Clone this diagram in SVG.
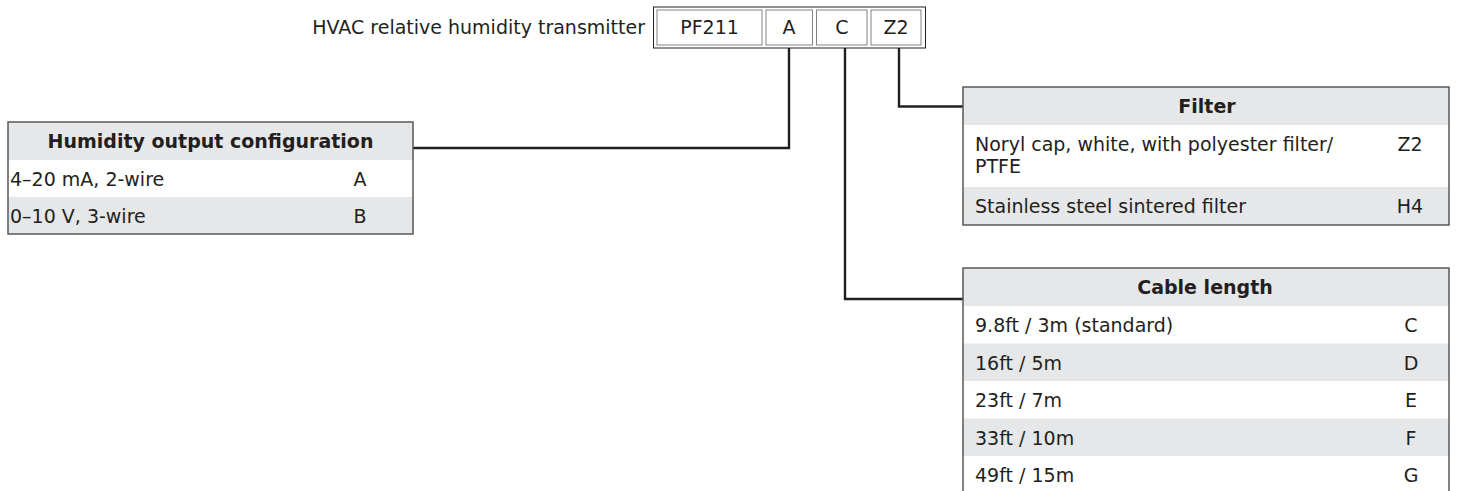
<svg xmlns="http://www.w3.org/2000/svg" width="1458" height="491" viewBox="0 0 1458 491">
<style>
text{font-family:"DejaVu Sans","Liberation Sans",sans-serif;font-size:19px;fill:#231f20}
.h{font-weight:bold;text-anchor:middle}
.c{text-anchor:middle}
.g{fill:#e6e7e8}
.w{fill:#ffffff}
.frame{fill:none;stroke:#58595b;stroke-width:1.5}
.cell{fill:#ffffff;stroke:#808285;stroke-width:1}
.conn{fill:none;stroke:#231f20;stroke-width:2.4}
</style>
<rect width="1458" height="491" fill="#ffffff"/>
<g id="code">
<text x="645" y="34" text-anchor="end">HVAC relative humidity transmitter</text>
<rect x="653.5" y="7" width="272" height="41" fill="#ffffff" stroke="#231f20" stroke-width="1"/>
<rect class="cell" x="657" y="10" width="105" height="35"/>
<rect class="cell" x="766" y="10" width="46.5" height="35"/>
<rect class="cell" x="816.5" y="10" width="50.5" height="35"/>
<rect class="cell" x="871" y="10" width="50" height="35"/>
<text class="c" x="709.5" y="34">PF211</text>
<text class="c" x="789" y="34">A</text>
<text class="c" x="842" y="34">C</text>
<text class="c" x="896" y="34">Z2</text>
</g>
<g id="connectors">
<polyline class="conn" points="789,48 789,148 413,148"/>
<polyline class="conn" points="845,48 845,299 963,299"/>
<polyline class="conn" points="899,48 899,106.5 963,106.5"/>
</g>
<g id="humidity">
<rect class="g" x="8" y="122" width="405" height="38"/>
<rect class="w" x="8" y="160" width="405" height="37"/>
<rect class="g" x="8" y="197" width="405" height="37"/>
<rect class="frame" x="8" y="122" width="405" height="112"/>
<text class="h" x="210.5" y="148">Humidity output configuration</text>
<text x="10" y="185.5">4–20 mA, 2-wire</text>
<text class="c" x="360" y="185.5">A</text>
<text x="10" y="222.5">0–10 V, 3-wire</text>
<text class="c" x="360" y="222.5">B</text>
</g>
<g id="filter">
<rect class="g" x="963" y="87" width="486" height="38"/>
<rect class="w" x="963" y="125" width="486" height="62"/>
<rect class="g" x="963" y="187" width="486" height="38"/>
<rect class="frame" x="963" y="87" width="486" height="138"/>
<text class="h" x="1207" y="113">Filter</text>
<text x="975" y="151">Noryl cap, white, with polyester filter/</text>
<text x="975" y="173">PTFE</text>
<text class="c" x="1410" y="151">Z2</text>
<text x="975" y="213">Stainless steel sintered filter</text>
<text class="c" x="1410" y="213">H4</text>
</g>
<g id="cable">
<rect class="g" x="963" y="268" width="486" height="38"/>
<rect class="w" x="963" y="306" width="486" height="37.5"/>
<rect class="g" x="963" y="343.5" width="486" height="37.5"/>
<rect class="w" x="963" y="381" width="486" height="37.5"/>
<rect class="g" x="963" y="418.5" width="486" height="37.5"/>
<rect class="w" x="963" y="456" width="486" height="37.5"/>
<rect class="frame" x="963" y="268" width="486" height="226"/>
<text class="h" x="1205" y="294">Cable length</text>
<text x="975" y="332">9.8ft / 3m (standard)</text>
<text class="c" x="1411" y="332">C</text>
<text x="975" y="369.5">16ft / 5m</text>
<text class="c" x="1411" y="369.5">D</text>
<text x="975" y="407">23ft / 7m</text>
<text class="c" x="1411" y="407">E</text>
<text x="975" y="444.5">33ft / 10m</text>
<text class="c" x="1411" y="444.5">F</text>
<text x="975" y="482">49ft / 15m</text>
<text class="c" x="1411" y="482">G</text>
</g>
</svg>
